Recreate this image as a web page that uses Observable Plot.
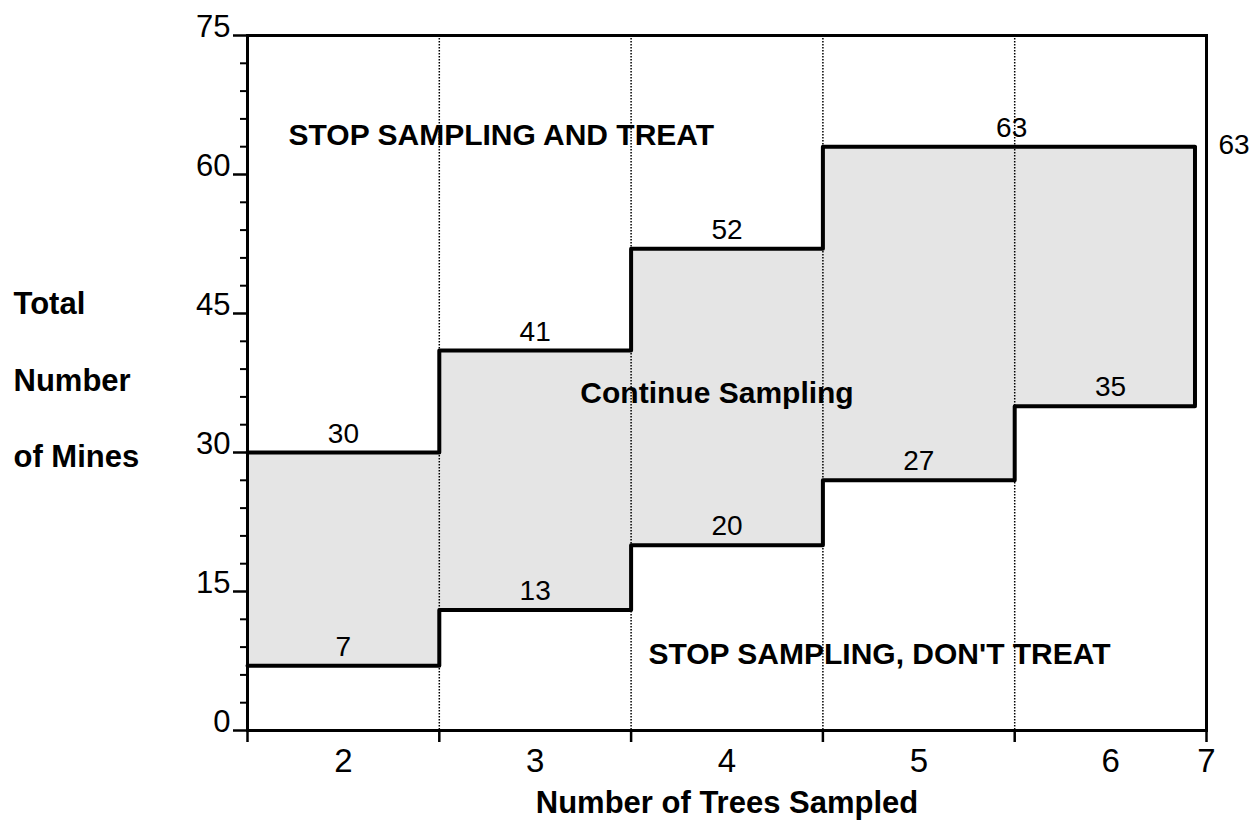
<!DOCTYPE html>
<html><head><meta charset="utf-8">
<script src="https://cdn.jsdelivr.net/npm/d3@7"></script>
<script src="https://cdn.jsdelivr.net/npm/@observablehq/plot@0.6"></script>
<style>body{margin:0;background:#fff} svg{display:block}</style>
</head><body><div id="chart"></div>
<script>
// ---- data ----
const trees = [2, 3, 4, 5, 6];
const lowerLimit = [7, 13, 20, 27, 35];   // stop sampling, don't treat at or below
const upperLimit = [30, 41, 52, 63, 63];  // stop sampling and treat at or above
const yMajorTicks = [0, 15, 30, 45, 60, 75];
const yMinorTicks = [3, 6, 9, 12, 18, 21, 24, 27, 33, 36, 39, 42, 48, 51, 54, 57, 63, 66, 69, 72];
const xBoundaryTicks = [1.5, 2.5, 3.5, 4.5, 5.5, 6.5];
const xTickValues = [2, 3, 4, 5, 6, 6.5];
const xTickLabels = ["2", "3", "4", "5", "6", "7"];
const regionLabels = ["STOP SAMPLING AND TREAT", "Continue Sampling", "STOP SAMPLING, DON'T TREAT"];
const yTitle = ["Total", "Number", "of Mines"];
const xTitle = "Number of Trees Sampled";

// ---- derived tables ----
const last = trees.length - 1;
const stepEnd = trees[last] + 0.44;
const steps = trees.map((n, i) => ({x: n - 0.5, lo: lowerLimit[i], hi: upperLimit[i]}));
steps.push({x: stepEnd, lo: lowerLimit[last], hi: upperLimit[last]});
const innerBoundaries = xBoundaryTicks.slice(1, -1);
const centerUpper = trees.map((n, i) => ({x: n, y: upperLimit[i]})).slice(0, 3);
const lowerLabels = trees.map((n, i) => ({x: n, y: lowerLimit[i]}));

const font = "'Liberation Sans', Arial, Helvetica, sans-serif";

const chart = Plot.plot({
  width: 1253, height: 821,
  marginLeft: 247, marginRight: 47, marginTop: 35, marginBottom: 91,
  style: {fontFamily: font, background: "#fff", color: "#000", overflow: "visible"},
  x: {domain: [1.5, 6.5], axis: null},
  y: {domain: [0, 75], axis: null},
  marks: [
    Plot.areaY(steps, {x: "x", y1: "lo", y2: "hi", curve: "step-after", fill: "#e5e5e5"}),
    Plot.ruleX(innerBoundaries, {stroke: "#000", strokeWidth: 1.5, strokeDasharray: "1.5,1.5"}),
    Plot.line(steps, {x: "x", y: "hi", curve: "step-after", stroke: "#000", strokeWidth: 4}),
    Plot.line(steps, {x: "x", y: "lo", curve: "step-after", stroke: "#000", strokeWidth: 4}),
    Plot.ruleX([steps[steps.length - 1]], {x: "x", y1: "lo", y2: "hi", stroke: "#000", strokeWidth: 4}),
    Plot.frame({stroke: "#000", strokeWidth: 3}),
    Plot.axisY({ticks: yMajorTicks, tickSize: 14, strokeWidth: 2.5, text: null, label: null}),
    Plot.axisY({ticks: yMinorTicks, tickSize: 7, strokeWidth: 2, text: null, label: null}),
    Plot.axisX({ticks: xBoundaryTicks, tickSize: 12, strokeWidth: 2.5, text: null, label: null}),
    Plot.text(yMajorTicks, {y: d => d, text: d => String(d), frameAnchor: "left", lineAnchor: "middle", dx: -17, dy: -8, textAnchor: "end", fontSize: 31}),
    Plot.text(xTickValues, {x: d => d, text: (d, i) => xTickLabels[i], frameAnchor: "bottom", lineAnchor: "middle", dy: 31, fontSize: 33}),
    // step value labels
    Plot.text(centerUpper, {x: "x", y: "y", text: d => String(d.y), lineAnchor: "bottom", dy: -10, fontSize: 28}),
    Plot.text([upperLimit[3]], {x: trees[3] + 0.5, y: d => d, text: d => String(d), lineAnchor: "bottom", dy: -10, dx: -3, fontSize: 28}),
    Plot.text([upperLimit[4]], {x: 6.5, y: d => d, text: d => String(d), textAnchor: "start", dx: 12, dy: -2, fontSize: 28}),
    Plot.text(lowerLabels, {x: "x", y: "y", text: d => String(d.y), lineAnchor: "bottom", dy: -10, fontSize: 28}),
    // region labels
    Plot.text([regionLabels[0]], {x: 1.714, y: 63.13, textAnchor: "start", lineAnchor: "bottom", fontSize: 30, fontWeight: "bold"}),
    Plot.text([regionLabels[1]], {x: 3.948, y: 35.29, lineAnchor: "bottom", fontSize: 30, fontWeight: "bold"}),
    Plot.text([regionLabels[2]], {x: 4.795, y: 7.23, lineAnchor: "bottom", fontSize: 30, fontWeight: "bold"}),
    // axis titles
    Plot.text([yTitle.join("\n")], {frameAnchor: "left", lineAnchor: "middle", dx: -234, dy: -17, textAnchor: "start", lineHeight: 2.48, fontSize: 31, fontWeight: "bold"}),
    Plot.text([xTitle], {frameAnchor: "bottom", dy: 82, lineAnchor: "bottom", fontSize: 31, fontWeight: "bold"})
  ]
});
document.getElementById("chart").appendChild(chart);
</script>
</body></html>
